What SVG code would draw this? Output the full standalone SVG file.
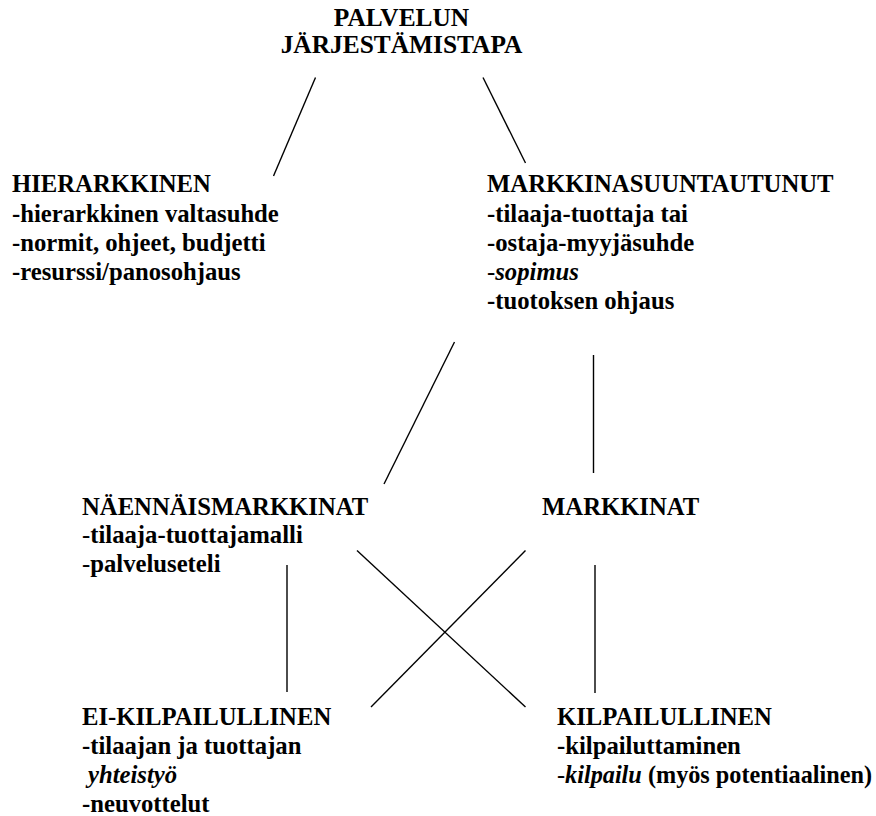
<svg xmlns="http://www.w3.org/2000/svg" width="876" height="816" viewBox="0 0 876 816">
<style>
text{font-family:'Liberation Serif','Times New Roman',Times,serif;font-size:24.7px;font-weight:bold;fill:#000}
.t{font-size:25.4px}
.n{font-weight:normal}
.i{font-style:italic}
.c line{stroke:#000;stroke-width:1.4;fill:none}
</style>
<rect width="876" height="816" fill="#fff"/>
<g class="c" id="connectors">
<line x1="315.5" y1="77.5" x2="273.5" y2="176"/>
<line x1="483" y1="77.5" x2="525.5" y2="163"/>
<line x1="454.5" y1="342" x2="384" y2="484"/>
<line x1="593.5" y1="355" x2="593.5" y2="473"/>
<line x1="287" y1="565" x2="287" y2="692"/>
<line x1="357" y1="550.5" x2="525.5" y2="707"/>
<line x1="525.5" y1="550.5" x2="371" y2="707"/>
<line x1="595" y1="565" x2="595" y2="693"/>
</g>
<g id="root">
<text class="t" x="401.5" y="26" text-anchor="middle">PALVELUN</text>
<text class="t" x="401.5" y="53" text-anchor="middle">JÄRJESTÄMISTAPA</text>
</g>
<g id="hierarkkinen">
<text x="12" y="192">HIERARKKINEN</text>
<text x="12" y="222">-hierarkkinen valtasuhde</text>
<text x="12" y="251">-normit, ohjeet, budjetti</text>
<text x="12" y="280">-resurssi/panosohjaus</text>
</g>
<g id="markkinasuuntautunut">
<text x="487" y="192">MARKKINASUUNTAUTUNUT</text>
<text x="487" y="222">-tilaaja-tuottaja tai</text>
<text x="487" y="251">-ostaja-myyjäsuhde</text>
<text x="487" y="280"><tspan class="n i">-</tspan><tspan class="i">sopimus</tspan></text>
<text x="487" y="309">-tuotoksen ohjaus</text>
</g>
<g id="naennaismarkkinat">
<text x="82" y="515">NÄENNÄISMARKKINAT</text>
<text x="82" y="543"><tspan class="n">-</tspan>tilaaja-tuottajamalli</text>
<text x="82" y="572"><tspan class="n">-</tspan>palveluseteli</text>
</g>
<g id="markkinat">
<text x="542" y="515">MARKKINAT</text>
</g>
<g id="ei-kilpailullinen">
<text x="82" y="725">EI-KILPAILULLINEN</text>
<text x="82" y="754">-tilaajan ja tuottajan</text>
<text x="88" y="783" class="i">yhteistyö</text>
<text x="82" y="812">-neuvottelut</text>
</g>
<g id="kilpailullinen">
<text x="557" y="725">KILPAILULLINEN</text>
<text x="557" y="754">-kilpailuttaminen</text>
<text x="557" y="783" textLength="315" lengthAdjust="spacingAndGlyphs"><tspan class="n i">-</tspan><tspan class="i">kilpailu</tspan> (myös potentiaalinen)</text>
</g>
</svg>
